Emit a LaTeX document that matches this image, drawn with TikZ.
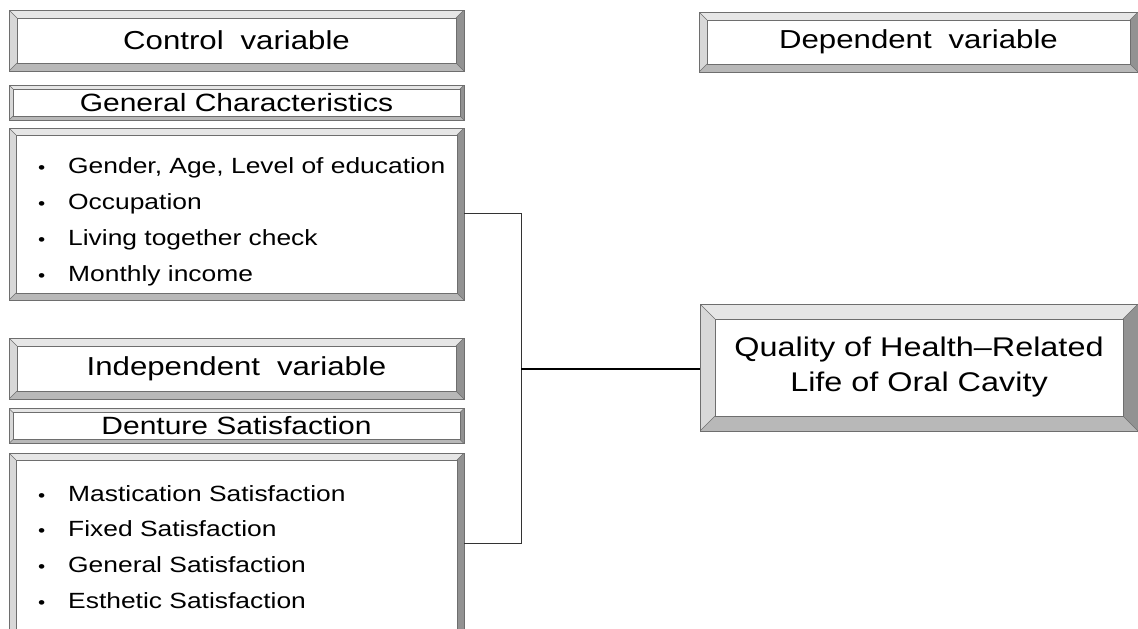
\documentclass[tikz,border=0pt]{standalone}
\usepackage{fontspec}
\setmainfont{Liberation Sans}[FakeStretch=1.2]
\usetikzlibrary{positioning}

\definecolor{edgegray}{HTML}{6E6E6E}
\definecolor{toplight}{HTML}{E6E6E6}
\definecolor{leftlight}{HTML}{D8D8D8}
\definecolor{botgray}{HTML}{B8B8B8}
\definecolor{rightdark}{HTML}{929292}

\newcommand{\wgap}{\hspace{0.65em}}
\newcommand{\bul}{\makebox[30pt][l]{\fontsize{17}{17}\selectfont •}}

\begin{document}
\begin{tikzpicture}[x=1pt, y=-1pt,
  bevel/.style={rectangle, draw=edgegray, line width=.7pt, fill=white, inner sep=0pt,
    path picture={
      \path (path picture bounding box.north west) coordinate (bA)
            (path picture bounding box.north east) coordinate (bB)
            (path picture bounding box.south east) coordinate (bC)
            (path picture bounding box.south west) coordinate (bD);
      \path ([shift={(#1pt,-#1pt)}]bA) coordinate (iA)
            ([shift={(-#1pt,-#1pt)}]bB) coordinate (iB)
            ([shift={(-#1pt,#1pt)}]bC) coordinate (iC)
            ([shift={(#1pt,#1pt)}]bD) coordinate (iD);
      \fill[toplight] (bA) -- (bB) -- (iB) -- (iA) -- cycle;
      \fill[leftlight] (bA) -- (iA) -- (iD) -- (bD) -- cycle;
      \fill[botgray] (bD) -- (iD) -- (iC) -- (bC) -- cycle;
      \fill[rightdark] (bB) -- (bC) -- (iC) -- (iB) -- cycle;
      \draw[edgegray, line width=.5pt] (iA) rectangle (iC);
      \draw[edgegray, line width=.4pt] (bA) -- (iA) (bB) -- (iB) (bC) -- (iC) (bD) -- (iD);
    }},
  titlebox/.style={bevel=8, minimum width=455pt, minimum height=61pt,
    font=\fontsize{26}{30}\selectfont},
  subbox/.style={bevel=4, minimum width=455pt, minimum height=35pt,
    font=\fontsize{25}{29}\selectfont},
  listbox/.style={bevel=7, minimum width=455pt},
  item/.style={anchor=west, inner sep=0pt, font=\fontsize{22}{26}\selectfont},
  link/.style={draw=black!80, line width=.8pt},
  mainlink/.style={draw=black, line width=1.8pt}]

\useasboundingbox (0,0) rectangle (1138,629);
\clip (0,0) rectangle (1138,629);

% left column
\node[titlebox] (ctrl) at (236.5,40.5) {Control\wgap variable};
\node[subbox] (gen) at (236.5,102.5) {General Characteristics};
\node[listbox, minimum height=172pt] (genlist) at (236.5,214) {};
\node[item] (g1) at (38,168) {\bul Gender, Age, Level of education};
\node[item] (g2) at (38,204) {\bul Occupation};
\node[item] (g3) at (38,240) {\bul Living together check};
\node[item] (g4) at (38,276) {\bul Monthly income};

\node[titlebox] (indep) at (236.5,368.5) {Independent\wgap variable};
\node[subbox] (dent) at (236.5,426) {Denture Satisfaction};
\node[listbox, minimum height=200pt] (dentlist) at (236.5,553) {};
\node[item] (d1) at (38,494) {\bul Mastication Satisfaction};
\node[item] (d2) at (38,529) {\bul Fixed Satisfaction};
\node[item] (d3) at (38,565) {\bul General Satisfaction};
\node[item] (d4) at (38,601) {\bul Esthetic Satisfaction};

% right column
\node[titlebox, minimum width=439pt, minimum height=60pt] (dep) at (918.5,42) {Dependent\wgap variable};
\node[bevel=15, minimum width=438pt, minimum height=127pt, align=center,
  font=\fontsize{27}{35}\selectfont] (qual) at (919,367.5)
  {Quality of Health–Related\\Life of Oral Cavity};

% connectors
\coordinate (jTop) at (521,213);
\coordinate (jBot) at (521,543);
\coordinate (jMid) at (521,369);
\draw[link] (genlist.east |- jTop) -- (jTop) -- (jBot) -- (dentlist.east |- jBot);
\draw[mainlink] (jMid) -- (qual.west |- jMid);
\end{tikzpicture}
\end{document}
